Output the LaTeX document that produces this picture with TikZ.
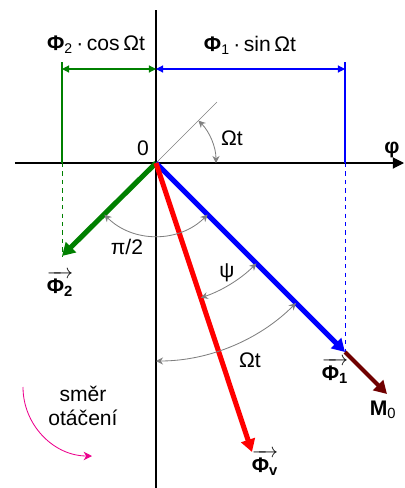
\documentclass[tikz,border=0pt]{standalone}
\usepackage{amsmath}
\usepackage{fontspec}
\setmainfont{Liberation Sans}
\usetikzlibrary{arrows.meta}
\definecolor{vgreen}{RGB}{0,128,0}
\definecolor{vbrown}{RGB}{112,0,0}
\newcommand{\vecphi}[1]{$\overrightarrow{\hbox{\bfseries Φ\textsubscript{#1}}}$}

\begin{document}
\begin{tikzpicture}[x=0.025cm, y=0.025cm, font=\fontsize{15}{17}\selectfont,
  vector/.style={line width=3.6pt, -{Triangle[length=9pt,width=10pt]}},
  dimline/.style={line width=0.8pt, {Triangle[length=5pt,width=5pt]}-{Triangle[length=5pt,width=5pt]}},
  anglearc/.style={gray, line width=0.6pt, {Stealth[length=5pt,width=5pt]}-{Stealth[length=5pt,width=5pt]}}]
  \useasboundingbox (-156,-325) rectangle (248,163);

  % Points
  \coordinate (O) at (0,0);
  \coordinate (ytop) at (0,153);
  \coordinate (ybot) at (0,-325);
  \coordinate (xl) at (-141,0);
  \coordinate (xr) at (248,0);
  \coordinate (F2) at (-94,-93);
  \coordinate (F1) at (189,-189);
  \coordinate (M0) at (231,-231);
  \coordinate (Fv) at (96,-289);
  \coordinate (wt) at (61,61);

  % Axes
  \draw[line width=0.8pt] (ytop) -- (ybot);
  \draw[line width=0.8pt, -{Triangle[length=8pt,width=8pt]}] (xl) -- (xr);
  \node[font=\fontsize{15}{17}\bfseries] (phi) at (236,13) {φ};
  \node (zero) at (-13,15) {0};
  \draw[gray, line width=0.5pt] (O) -- (wt);

  % Projections
  \coordinate (g1) at (-94,101);
  \coordinate (g2) at (-94,0);
  \coordinate (b1) at (189,101);
  \coordinate (b2) at (189,0);
  \draw[vgreen, line width=0.8pt] (g1) -- (g2);
  \draw[vgreen, line width=0.6pt, dashed] (g2) -- (F2);
  \draw[blue, line width=0.8pt] (b1) -- (b2);
  \draw[blue, line width=0.6pt, dashed] (b2) -- (F1);
  \coordinate (dg) at (-94,94);
  \coordinate (d0) at (0,94);
  \coordinate (db) at (189,94);
  \draw[dimline, vgreen] (dg) -- (d0);
  \draw[dimline, blue] (d0) -- (db);
  \node (lcos) at (-60,118) {\textbf{Φ}\textsubscript{\normalsize 2}\,·\,cos\,Ωt};
  \node (lsin) at (94,118) {\textbf{Φ}\textsubscript{\normalsize 1}\,·\,sin\,Ωt};

  % Vectors
  \draw[vector, vbrown, line width=3pt] (F1) -- (M0);
  \draw[vector, vgreen] (O) -- (F2);
  \draw[vector, blue] (O) -- (F1);
  \draw[vector, red] (O) -- (Fv);
  \node (lF2) at (-96,-121) {\vecphi{2}};
  \node (lF1) at (179,-208) {\vecphi{1}};
  \node (lFv) at (109,-300) {\vecphi{v}};
  \node (lM0) at (227,-247) {\textbf{M}\textsubscript{0}};

  % Angles
  \draw[anglearc] (0:60) arc[start angle=0, end angle=45, radius=60];
  \draw[anglearc] (-135:73) arc[start angle=-135, end angle=-45, radius=73];
  \draw[anglearc] (-71.6:142) arc[start angle=-71.6, end angle=-45, radius=142];
  \draw[anglearc] (-90:198) arc[start angle=-90, end angle=-45, radius=198];
  \node (lwt1) at (76,25) {Ωt};
  \node (lpi) at (-29,-84) {π/2};
  \node (lpsi) at (71,-110) {ψ};
  \node (lwt2) at (94,-197) {Ωt};

  % Direction of rotation
  \node[align=center] (dir) at (-73,-243) {směr\\otáčení};
  \coordinate (rot) at (-133,-224);
  \draw[magenta, line width=0.6pt, -{Stealth[length=6pt,width=6pt]}] (rot) arc[start angle=180, end angle=270, radius=69];
\end{tikzpicture}
\end{document}
